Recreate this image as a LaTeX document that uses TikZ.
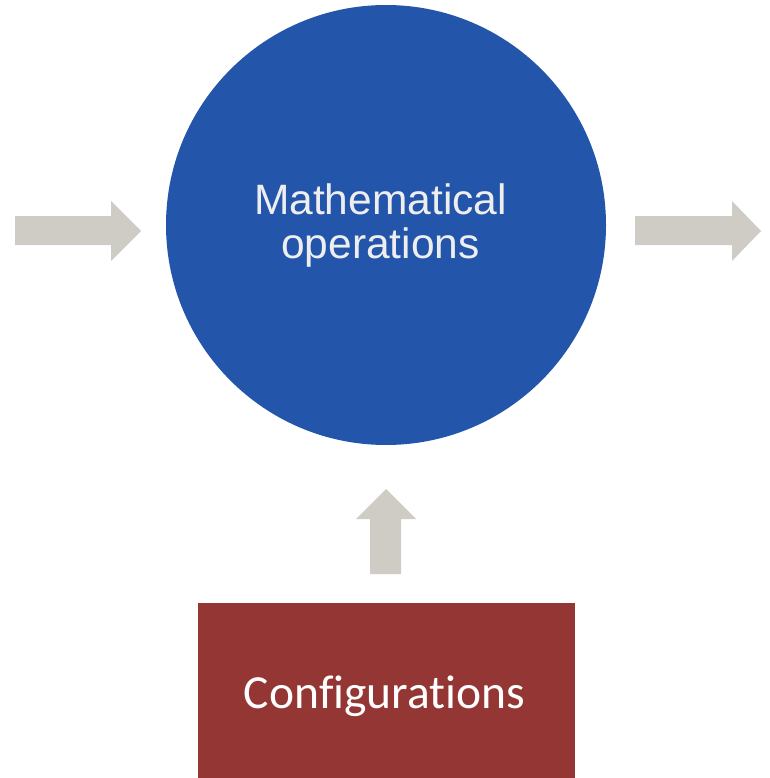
\documentclass[tikz,border=0pt]{standalone}
\usepackage{fontspec}
\setmainfont{Liberation Sans}
\newfontfamily\calibrilike[Ligatures=NoCommon]{Carlito}
\definecolor{opblue}{HTML}{2356AB}
\definecolor{cfgred}{HTML}{943634}
\definecolor{flowgrey}{HTML}{CFCBC5}
\definecolor{optext}{HTML}{EEEEEE}
\begin{document}
\begin{tikzpicture}[x=1pt,y=-1pt,
  blockarrow/.style={fill=flowgrey,draw=none}]
\useasboundingbox (0,0) rectangle (769,778);
% central operation circle
\node (ops) [circle,fill=opblue,draw=none,minimum size=440pt,inner sep=0pt] at (386,225) {};
\node (opslabel) [text=optext,align=center,anchor=base,inner sep=0pt,font=\fontsize{42.5}{44.5}\selectfont] at (380.5,258.5) {Mathematical\\operations};
% configuration block
\node (cfg) [fill=cfgred,draw=none,minimum width=377pt,minimum height=175pt,inner sep=0pt,anchor=north west] at (198,603) {};
\node (cfglabel) [text=white,anchor=base,inner sep=0pt,font=\calibrilike\fontsize{47.5}{56}\selectfont] at (384.5,708) {Configurations};
% input, output and configuration arrows
\fill[blockarrow] (15,216) -- (111,216) -- (111,201) -- (141,231) -- (111,261) -- (111,245) -- (15,245) -- cycle;
\fill[blockarrow] (635,216) -- (732,216) -- (732,201) -- (761,231) -- (732,261) -- (732,245) -- (635,245) -- cycle;
\fill[blockarrow] (370,574) -- (370,519) -- (356,519) -- (386,489) -- (416,519) -- (401,519) -- (401,574) -- cycle;
\end{tikzpicture}
\end{document}
